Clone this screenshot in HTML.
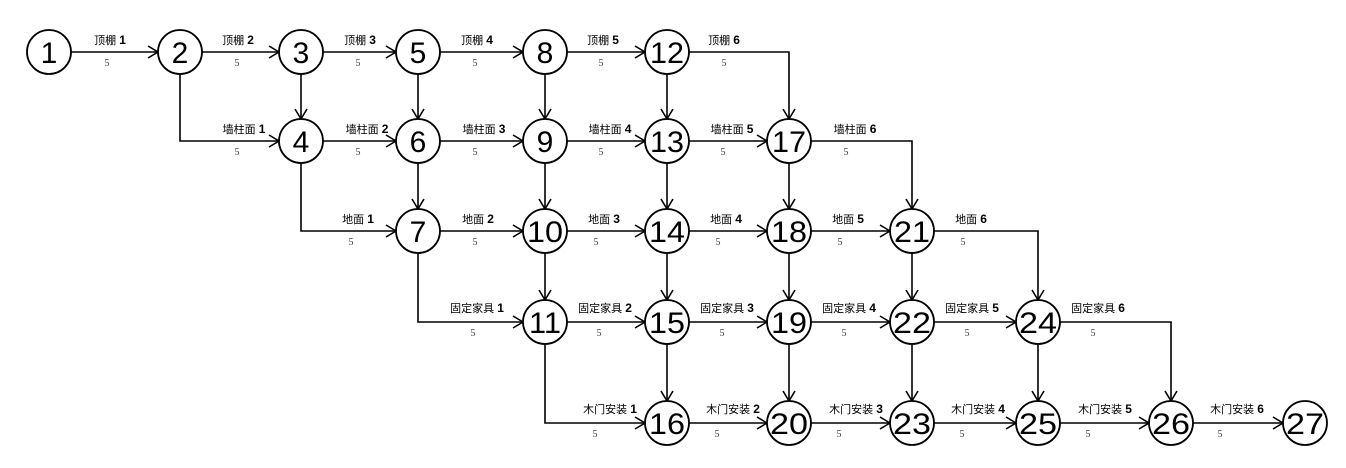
<!DOCTYPE html>
<html><head><meta charset="utf-8"><style>
html,body{margin:0;padding:0;background:#fff;width:1346px;height:468px;overflow:hidden}
svg{display:block}
.l{font-family:"Liberation Sans","Noto Sans CJK SC",sans-serif;font-size:11px;fill:#000;text-anchor:middle}
.l tspan{font-weight:bold;font-size:12px}
.d{font-family:"Liberation Serif",serif;font-size:10px;fill:#444;text-anchor:middle}
.n{font-family:"Liberation Sans",sans-serif;font-size:30px;fill:#000;text-anchor:middle;font-weight:normal}
</style></head><body>
<svg width="1346" height="468" viewBox="0 0 1346 468" xmlns="http://www.w3.org/2000/svg">
<defs><marker id="a" markerWidth="14" markerHeight="14" refX="12" refY="7" orient="auto" markerUnits="userSpaceOnUse"><path d="M2,1 L12,7 L2,13" fill="none" stroke="#000" stroke-width="1.6"/></marker></defs>
<g fill="none" stroke="#000" stroke-width="1.6" marker-end="url(#a)">
<!-- row1 -->
<path d="M71,52H158"/><path d="M202,52H279"/><path d="M323,52H396"/><path d="M440,52H523"/><path d="M567,52H645"/>
<path d="M689,52H789V119"/>
<!-- verticals 1-2 -->
<path d="M301,74V119"/><path d="M418,74V119"/><path d="M545,74V119"/><path d="M667,74V119"/>
<path d="M180,74V141H279"/>
<!-- row2 -->
<path d="M323,141H396"/><path d="M440,141H523"/><path d="M567,141H645"/><path d="M689,141H767"/>
<path d="M811,141H912V209"/>
<path d="M418,163V209"/><path d="M545,163V209"/><path d="M667,163V209"/><path d="M789,163V209"/>
<path d="M301,163V231H396"/>
<!-- row3 -->
<path d="M440,231H523"/><path d="M567,231H645"/><path d="M689,231H767"/><path d="M811,231H890"/>
<path d="M934,231H1038V300"/>
<path d="M545,253V300"/><path d="M667,253V300"/><path d="M789,253V300"/><path d="M912,253V300"/>
<path d="M418,253V322H523"/>
<!-- row4 -->
<path d="M567,322H645"/><path d="M689,322H767"/><path d="M811,322H890"/><path d="M934,322H1016"/>
<path d="M1060,322H1171V401"/>
<path d="M667,344V401"/><path d="M789,344V401"/><path d="M912,344V401"/><path d="M1038,344V401"/>
<path d="M545,344V423H645"/>
<!-- row5 -->
<path d="M689,423H767"/><path d="M811,423H890"/><path d="M934,423H1016"/><path d="M1060,423H1149"/><path d="M1193,423H1283"/>
</g>
<g fill="#fff" stroke="#000" stroke-width="1.8">
<circle cx="49" cy="52" r="22"/><circle cx="180" cy="52" r="22"/><circle cx="301" cy="52" r="22"/><circle cx="418" cy="52" r="22"/><circle cx="545" cy="52" r="22"/><circle cx="667" cy="52" r="22"/>
<circle cx="301" cy="141" r="22"/><circle cx="418" cy="141" r="22"/><circle cx="545" cy="141" r="22"/><circle cx="667" cy="141" r="22"/><circle cx="789" cy="141" r="22"/>
<circle cx="418" cy="231" r="22"/><circle cx="545" cy="231" r="22"/><circle cx="667" cy="231" r="22"/><circle cx="789" cy="231" r="22"/><circle cx="912" cy="231" r="22"/>
<circle cx="545" cy="322" r="22"/><circle cx="667" cy="322" r="22"/><circle cx="789" cy="322" r="22"/><circle cx="912" cy="322" r="22"/><circle cx="1038" cy="322" r="22"/>
<circle cx="667" cy="423" r="22"/><circle cx="789" cy="423" r="22"/><circle cx="912" cy="423" r="22"/><circle cx="1038" cy="423" r="22"/><circle cx="1171" cy="423" r="22"/><circle cx="1305" cy="423" r="22"/>
</g>
<g class="n">
<text x="49" y="63">1</text><text x="180" y="63">2</text><text x="301" y="63">3</text><text x="418" y="63">5</text><text x="545" y="63">8</text><text x="667" y="63" textLength="34" lengthAdjust="spacingAndGlyphs">12</text>
<text x="301" y="152">4</text><text x="418" y="152">6</text><text x="545" y="152">9</text><text x="667" y="152" textLength="34" lengthAdjust="spacingAndGlyphs">13</text><text x="789" y="152" textLength="34" lengthAdjust="spacingAndGlyphs">17</text>
<text x="418" y="242">7</text><text x="545" y="242" textLength="36" lengthAdjust="spacingAndGlyphs">10</text><text x="667" y="242" textLength="36" lengthAdjust="spacingAndGlyphs">14</text><text x="789" y="242" textLength="36" lengthAdjust="spacingAndGlyphs">18</text><text x="912" y="242" textLength="36" lengthAdjust="spacingAndGlyphs">21</text>
<text x="545" y="333" textLength="32" lengthAdjust="spacingAndGlyphs">11</text><text x="667" y="333" textLength="36" lengthAdjust="spacingAndGlyphs">15</text><text x="789" y="333" textLength="36" lengthAdjust="spacingAndGlyphs">19</text><text x="912" y="333" textLength="38" lengthAdjust="spacingAndGlyphs">22</text><text x="1038" y="333" textLength="38" lengthAdjust="spacingAndGlyphs">24</text>
<text x="667" y="434" textLength="36" lengthAdjust="spacingAndGlyphs">16</text><text x="789" y="434" textLength="38" lengthAdjust="spacingAndGlyphs">20</text><text x="912" y="434" textLength="38" lengthAdjust="spacingAndGlyphs">23</text><text x="1038" y="434" textLength="38" lengthAdjust="spacingAndGlyphs">25</text><text x="1171" y="434" textLength="38" lengthAdjust="spacingAndGlyphs">26</text><text x="1305" y="434" textLength="38" lengthAdjust="spacingAndGlyphs">27</text>
</g>
<g class="l">
<text x="110" y="44">顶棚 <tspan>1</tspan></text><text x="238" y="44">顶棚 <tspan>2</tspan></text><text x="360" y="44">顶棚 <tspan>3</tspan></text><text x="477" y="44">顶棚 <tspan>4</tspan></text><text x="603" y="44">顶棚 <tspan>5</tspan></text><text x="724" y="44">顶棚 <tspan>6</tspan></text>
<text x="244" y="133">墙柱面 <tspan>1</tspan></text><text x="367" y="133">墙柱面 <tspan>2</tspan></text><text x="484" y="133">墙柱面 <tspan>3</tspan></text><text x="610" y="133">墙柱面 <tspan>4</tspan></text><text x="732" y="133">墙柱面 <tspan>5</tspan></text><text x="855" y="133">墙柱面 <tspan>6</tspan></text>
<text x="358" y="223">地面 <tspan>1</tspan></text><text x="478" y="223">地面 <tspan>2</tspan></text><text x="604" y="223">地面 <tspan>3</tspan></text><text x="726" y="223">地面 <tspan>4</tspan></text><text x="848" y="223">地面 <tspan>5</tspan></text><text x="971" y="223">地面 <tspan>6</tspan></text>
<text x="477" y="312">固定家具 <tspan>1</tspan></text><text x="605" y="312">固定家具 <tspan>2</tspan></text><text x="727" y="312">固定家具 <tspan>3</tspan></text><text x="849" y="312">固定家具 <tspan>4</tspan></text><text x="972" y="312">固定家具 <tspan>5</tspan></text><text x="1098" y="312">固定家具 <tspan>6</tspan></text>
<text x="610" y="413">木门安装 <tspan>1</tspan></text><text x="733" y="413">木门安装 <tspan>2</tspan></text><text x="856" y="413">木门安装 <tspan>3</tspan></text><text x="978" y="413">木门安装 <tspan>4</tspan></text><text x="1105" y="413">木门安装 <tspan>5</tspan></text><text x="1237" y="413">木门安装 <tspan>6</tspan></text>
</g>
<g class="d">
<text x="107" y="66">5</text><text x="237" y="66">5</text><text x="358" y="66">5</text><text x="475" y="66">5</text><text x="601" y="66">5</text><text x="724" y="66">5</text>
<text x="237" y="155">5</text><text x="358" y="155">5</text><text x="475" y="155">5</text><text x="601" y="155">5</text><text x="723" y="155">5</text><text x="846" y="155">5</text>
<text x="351" y="245">5</text><text x="475" y="245">5</text><text x="596" y="245">5</text><text x="718" y="245">5</text><text x="840" y="245">5</text><text x="963" y="245">5</text>
<text x="473" y="336">5</text><text x="599" y="336">5</text><text x="722" y="336">5</text><text x="844" y="336">5</text><text x="967" y="336">5</text><text x="1093" y="336">5</text>
<text x="595" y="437">5</text><text x="717" y="437">5</text><text x="839" y="437">5</text><text x="962" y="437">5</text><text x="1088" y="437">5</text><text x="1220" y="437">5</text>
</g>
</svg>
</body></html>
